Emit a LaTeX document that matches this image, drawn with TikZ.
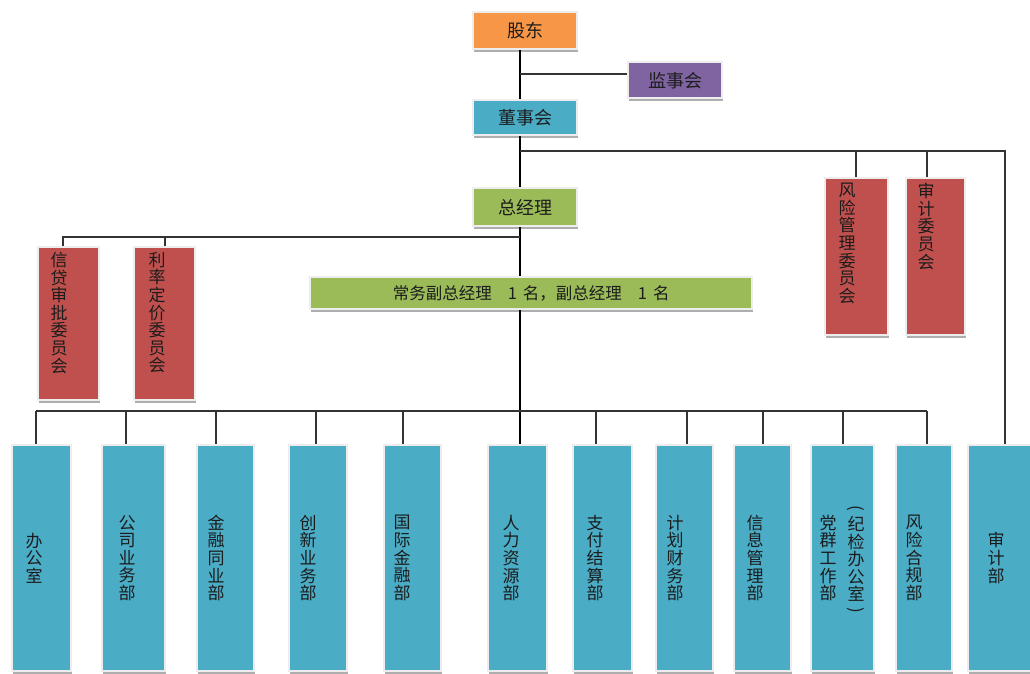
\documentclass[tikz,border=0pt]{standalone}
\usepackage{fontspec}
\setmainfont{Noto Sans CJK SC}
\usetikzlibrary{shadows}
\definecolor{cOrange}{HTML}{F79646}
\definecolor{cPurple}{HTML}{8064A2}
\definecolor{cBlue}{HTML}{4BACC6}
\definecolor{cGreen}{HTML}{9BBB59}
\definecolor{cRed}{HTML}{C0504D}
\definecolor{cFrame}{HTML}{EDEDED}
\definecolor{cText}{HTML}{1C1C1C}
\definecolor{cLine}{HTML}{333333}
\tikzset{
  orgbox/.style={draw=cFrame, line width=2.4pt, inner sep=0pt, anchor=north west,
    drop shadow={shadow xshift=0.8pt, shadow yshift=-2.6pt, fill=black!45, opacity=0.7}},
  hlabel/.style={text=cText, font=\fontsize{18}{20}\selectfont},
  clabel/.style={text=cText, font=\fontsize{16.5}{20}\selectfont},
  vlabel/.style={text=cText, font=\fontsize{17}{17.6}\selectfont, align=center, inner sep=0pt},
  spineline/.style={line width=2.2pt, draw=black},
  linkline/.style={line width=1.2pt, draw=cLine},
  bottombox/.style={orgbox, fill=cBlue, minimum height=226pt},
}
\begin{document}
\begin{tikzpicture}[x=1pt,y=-1pt]
\fill[white, use as bounding box] (0,0) rectangle (1030,673);

% top chain
\node[orgbox, fill=cOrange, minimum width=104pt, minimum height=37pt, hlabel] (gd) at (472,11) {股东};
\node[orgbox, fill=cPurple, minimum width=94pt, minimum height=36pt, hlabel] (jsh) at (627,61) {监事会};
\node[orgbox, fill=cBlue, minimum width=104pt, minimum height=35pt, hlabel] (dsh) at (472,99) {董事会};
\node[orgbox, fill=cGreen, minimum width=104pt, minimum height=38pt, hlabel] (zjl) at (472,187) {总经理};
\node[orgbox, fill=cGreen, minimum width=442pt, minimum height=32pt, clabel] (cw) at (309,276) {常务副总经理\hspace{16pt}1\hspace{6pt}名，副总经理\hspace{16pt}1\hspace{6pt}名};

% committees
\node[orgbox, fill=cRed, minimum width=61pt, minimum height=153pt] (xd) at (37,246) {};
\node[orgbox, fill=cRed, minimum width=61pt, minimum height=153pt] (ll) at (133,246) {};
\node[orgbox, fill=cRed, minimum width=63pt, minimum height=157pt] (fx) at (824,177) {};
\node[orgbox, fill=cRed, minimum width=59pt, minimum height=157pt] (sj) at (905,177) {};
\node[vlabel, anchor=north] (txd) at (59,252) {信\\贷\\审\\批\\委\\员\\会};
\node[vlabel, anchor=north] (tll) at (157,252) {利\\率\\定\\价\\委\\员\\会};
\node[vlabel, anchor=north] (tfx) at (847,183) {风\\险\\管\\理\\委\\员\\会};
\node[vlabel, anchor=north] (tsj) at (926,183) {审\\计\\委\\员\\会};

% departments
\node[bottombox, minimum width=59pt] (bgs) at (11,444) {};
\node[bottombox, minimum width=63pt] (gsyw) at (101,444) {};
\node[bottombox, minimum width=57pt] (jrty) at (196,444) {};
\node[bottombox, minimum width=58pt] (cxyw) at (288,444) {};
\node[bottombox, minimum width=57pt] (gjjr) at (383,444) {};
\node[bottombox, minimum width=59pt] (rlzy) at (487,444) {};
\node[bottombox, minimum width=59pt] (zfjs) at (572,444) {};
\node[bottombox, minimum width=57pt] (jhcw) at (655,444) {};
\node[bottombox, minimum width=57pt] (xxgl) at (733,444) {};
\node[bottombox, minimum width=63pt] (dqgz) at (810,444) {};
\node[bottombox, minimum width=56pt] (fxhg) at (895,444) {};
\node[bottombox, minimum width=70pt] (sjb) at (967,444) {};

\node[vlabel] (tbgs) at (34,558) {办\\公\\室};
\node[vlabel] (tgsyw) at (127,558) {公\\司\\业\\务\\部};
\node[vlabel] (tjrty) at (216,558) {金\\融\\同\\业\\部};
\node[vlabel] (tcxyw) at (308,558) {创\\新\\业\\务\\部};
\node[vlabel] (tgjjr) at (402,558) {国\\际\\金\\融\\部};
\node[vlabel] (trlzy) at (511,558) {人\\力\\资\\源\\部};
\node[vlabel] (tzfjs) at (595,558) {支\\付\\结\\算\\部};
\node[vlabel] (tjhcw) at (675,558) {计\\划\\财\\务\\部};
\node[vlabel] (txxgl) at (755,558) {信\\息\\管\\理\\部};
\node[vlabel] (tdqgz) at (828,558) {党\\群\\工\\作\\部};
\node[vlabel] (tjjb) at (856,559) {纪\\检\\办\\公\\室};
\node[vlabel, rotate=-90] (plp) at (856,508) {(};
\node[vlabel, rotate=-90] (prp) at (856,610) {)};
\node[vlabel] (tfxhg) at (914,558) {风\\险\\合\\规\\部};
\node[vlabel] (tsjb) at (996,558) {审\\计\\部};

% connectors
\coordinate (sp) at (520,0);
\draw[spineline] (gd.south -| sp) -- (dsh.north -| sp);
\coordinate (jb) at (520,74);
\draw[linkline] (jb) -- (jb -| jsh.west);
\draw[spineline] (dsh.south -| sp) -- (zjl.north -| sp);
\coordinate (rb) at (520,151);
\coordinate (rc) at (1005,151);
\draw[linkline, line join=miter] (rb) -- (rc) -- (rc |- sjb.north);
\coordinate (fxd) at (856,151);
\draw[linkline] (fxd) -- (fxd |- fx.north);
\coordinate (sjd) at (927,151);
\draw[linkline] (sjd) -- (sjd |- sj.north);
\draw[spineline] (zjl.south -| sp) -- (cw.north -| sp);
\coordinate (lb) at (520,237);
\coordinate (lc) at (63,237);
\draw[linkline, line join=miter] (lb) -- (lc) -- (lc |- xd.north);
\coordinate (lld) at (165,237);
\draw[linkline] (lld) -- (lld |- ll.north);
\draw[spineline] (cw.south -| sp) -- (rlzy.north -| sp);

\coordinate (d1) at (36,411);
\coordinate (d2) at (126,411);
\coordinate (d3) at (216,411);
\coordinate (d4) at (316,411);
\coordinate (d5) at (403,411);
\coordinate (d7) at (596,411);
\coordinate (d8) at (687,411);
\coordinate (d9) at (763,411);
\coordinate (d10) at (843,411);
\coordinate (d11) at (927,411);
\draw[linkline] (d1) -- (d11);
\foreach \c/\n in {d1/bgs, d2/gsyw, d3/jrty, d4/cxyw, d5/gjjr, d7/zfjs, d8/jhcw, d9/xxgl, d10/dqgz, d11/fxhg}
  \draw[linkline] (\c) -- (\c |- \n.north);
\end{tikzpicture}
\end{document}
